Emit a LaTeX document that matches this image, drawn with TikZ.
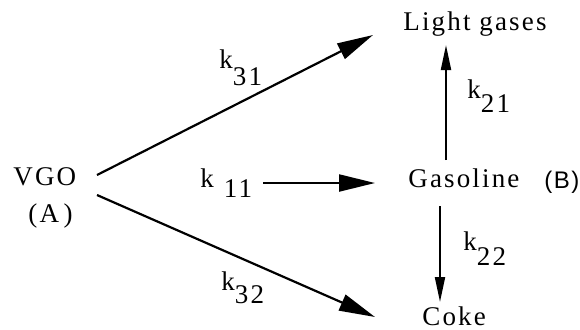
\documentclass[tikz,border=0pt]{standalone}
\usepackage{fontspec}
\setmainfont[LetterSpace=8]{Liberation Serif}
\newfontfamily\tagfont[LetterSpace=6]{Liberation Sans}
\usetikzlibrary{arrows.meta}
\newcommand{\rconst}[2][7pt]{k\raisebox{-#1}{#2}}

\begin{document}
\begin{tikzpicture}[
  x=0.5pt, y=-0.5pt,
  species/.style={inner sep=0pt, anchor=base west, font=\fontsize{13.5}{16}\selectfont},
  rate/.style={inner sep=0pt, anchor=base west, font=\fontsize{13.5}{16}\selectfont},
  bigarrow/.style={-{Triangle[length=18pt, width=8.5pt]}, line width=1.1pt},
  smallarrow/.style={-{Triangle[length=12.5pt, width=5pt]}, line width=1pt}
]
  \useasboundingbox (0,0) rectangle (580,329);

  %% Species
  \node[species] (vgo) at (13,185) {VGO};
  \node[species] (vgoA) at (28,222) {(A\,)};
  \node[species] (light) at (403,30) {Light gases};
  \node[species] (gas) at (408,187) {Gasoline};
  \node[species, font=\tagfont\fontsize{12}{14}\selectfont] (gasB) at (544,188) {(B)};
  \node[species] (coke) at (422,325) {Coke};

  %% Rate constants
  \node[rate] (k31) at (219,68) {\rconst[8.5pt]{31}};
  \node[rate] (k32) at (221,290) {\rconst[6.5pt]{32}};
  \node[rate] (k11) at (200,187) {k\hspace{5pt}\raisebox{-5pt}{11}};
  \node[rate] (k21) at (467,98) {\rconst{21}};
  \node[rate] (k22) at (463,250) {\rconst[7.5pt]{22}};

  %% Connector ends
  \coordinate (vgo-up) at (97,175);
  \coordinate (vgo-down) at (97,195);
  \coordinate (light-in) at (373,35);
  \coordinate (coke-in) at (375,317);
  \coordinate (k11-out) at (263,183);
  \coordinate (gas-in) at (375,183);
  \coordinate (gas-up) at (446,160);
  \coordinate (light-low) at (446,45);
  \coordinate (gas-down) at (440,206);
  \coordinate (coke-top) at (440,302);

  %% Arrows
  \draw[bigarrow] (vgo-up) -- (light-in);
  \draw[bigarrow] (vgo-down) -- (coke-in);
  \draw[bigarrow] (k11-out) -- (gas-in);
  \draw[smallarrow] (gas-up) -- (light-low);
  \draw[smallarrow] (gas-down) -- (coke-top);
\end{tikzpicture}
\end{document}
